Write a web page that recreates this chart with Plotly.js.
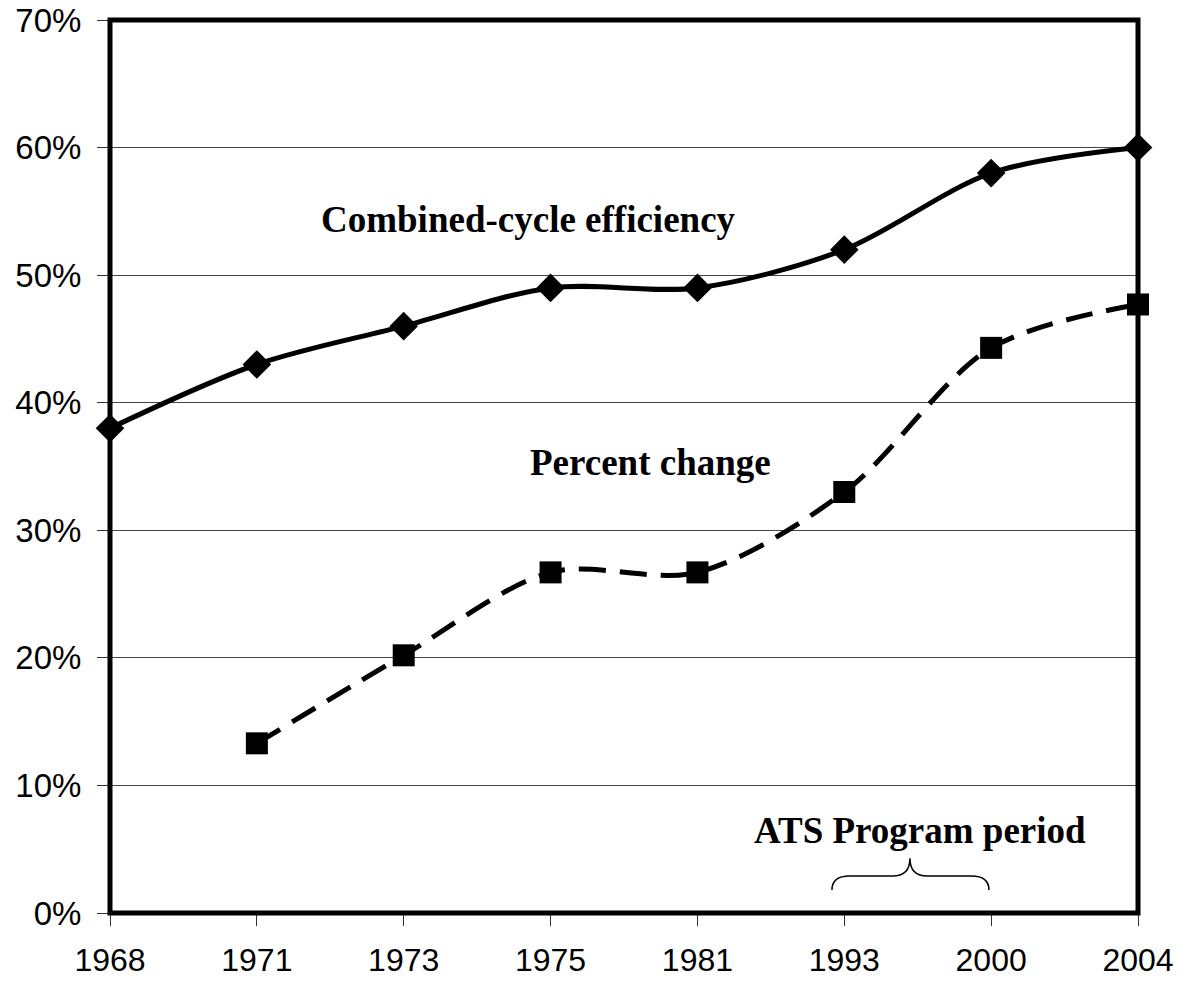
<!DOCTYPE html>
<html>
<head>
<meta charset="utf-8">
<script src="https://cdn.plot.ly/plotly-3.0.1.min.js"></script>
<style>html,body{margin:0;padding:0;background:#fff;}#chart{width:1180px;height:982px;}</style>
</head>
<body>
<div id="chart"></div>
<script>
var years = ["1968", "1971", "1973", "1975", "1981", "1993", "2000", "2004"];
var efficiency = [38, 43, 46, 49, 49, 52, 58, 60];
var percentChange = [null, 13.3, 20.2, 26.7, 26.7, 33.0, 44.3, 47.7];
var yTicks = [0, 10, 20, 30, 40, 50, 60, 70];
var yTickLabels = ["0%", "10%", "20%", "30%", "40%", "50%", "60%", "70%"];

var xMax = years.length - 1, yMax = 70;
function px(i) { return i / xMax; }
function py(v) { return v / yMax; }

// brace under "ATS Program period" (category index / percent units)
var bx0 = 4.916, bx1 = 5.985, bxm = 5.447, by0 = 1.8, byh = 2.9, byp = 4.3, bdx = 0.12;
var bracePath =
  "M" + px(bx0) + "," + py(by0) +
  " Q" + px(bx0) + "," + py(byh) + " " + px(bx0 + bdx) + "," + py(byh) +
  " L" + px(bxm - bdx) + "," + py(byh) +
  " Q" + px(bxm) + "," + py(byh) + " " + px(bxm) + "," + py(byp) +
  " Q" + px(bxm) + "," + py(byh) + " " + px(bxm + bdx) + "," + py(byh) +
  " L" + px(bx1 - bdx) + "," + py(byh) +
  " Q" + px(bx1) + "," + py(byh) + " " + px(bx1) + "," + py(by0);

var traces = [
  {
    x: years, y: efficiency, type: "scatter", mode: "lines+markers",
    line: {color: "#000", width: 5, shape: "spline", smoothing: 0.9},
    marker: {symbol: "diamond", size: 22, color: "#000"},
    cliponaxis: false, hoverinfo: "none"
  },
  {
    x: years, y: percentChange, type: "scatter", mode: "lines+markers",
    line: {color: "#000", width: 5, shape: "spline", smoothing: 0.9, dash: "27px,14px"},
    marker: {symbol: "square", size: 22, color: "#000"},
    cliponaxis: false, connectgaps: false, hoverinfo: "none"
  }
];

var tfont = {family: "Liberation Serif, Times New Roman, serif", size: 37, color: "#000"};

var layout = {
  width: 1180, height: 982,
  margin: {l: 110, r: 42, t: 20, b: 69},
  paper_bgcolor: "#fff", plot_bgcolor: "#fff",
  showlegend: false,
  font: {family: "Liberation Sans, Arial, sans-serif", size: 32, color: "#000"},
  xaxis: {
    type: "category", range: [0, xMax],
    showgrid: false, zeroline: false, showline: false,
    ticks: "outside", ticklen: 12, tickwidth: 1, tickcolor: "#333",
    ticklabelstandoff: 7,
    tickfont: {size: 32}, fixedrange: true
  },
  yaxis: {
    range: [0, yMax], tickvals: yTicks, ticktext: yTickLabels,
    showgrid: true, gridcolor: "#444", gridwidth: 1,
    zeroline: false, showline: false,
    ticks: "outside", ticklen: 12, tickwidth: 1, tickcolor: "#333",
    ticklabelstandoff: 9,
    tickfont: {size: 33}, fixedrange: true
  },
  shapes: [
    {type: "rect", xref: "paper", yref: "paper", x0: 0, x1: 1, y0: 0, y1: 1,
     line: {color: "#000", width: 5}, layer: "above"},
    {type: "path", xref: "paper", yref: "paper", path: bracePath,
     line: {color: "#000", width: 1.5}}
  ],
  annotations: [
    {xref: "paper", yref: "paper", x: px(2.85), y: py(54.4), text: "<b>Combined-cycle efficiency</b>",
     showarrow: false, font: tfont, xanchor: "center", yanchor: "middle"},
    {xref: "paper", yref: "paper", x: px(3.68), y: py(35.3), text: "<b>Percent change</b>",
     showarrow: false, font: tfont, xanchor: "center", yanchor: "middle"},
    {xref: "paper", yref: "paper", x: px(5.515), y: py(6.5), text: "<b>ATS Program period</b>",
     showarrow: false, font: tfont, xanchor: "center", yanchor: "middle"}
  ]
};

Plotly.newPlot("chart", traces, layout, {displayModeBar: false, staticPlot: true});
</script>
</body>
</html>
